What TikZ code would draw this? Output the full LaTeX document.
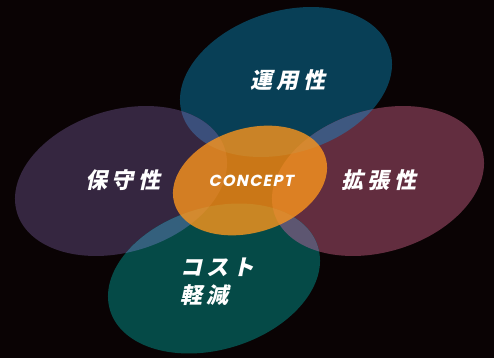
\documentclass[tikz,border=0pt]{standalone}
\usepackage{fontspec}
\newfontfamily\jp[FakeSlant=0.22,LetterSpace=20]{Noto Sans CJK JP}
\newfontfamily\cfont[FakeSlant=0.2,LetterSpace=8]{Poppins}
\definecolor{bgc}{HTML}{0A0304}
\definecolor{cT}{HTML}{083F56}
\definecolor{cL}{HTML}{352640}
\definecolor{cR}{HTML}{622D3F}
\definecolor{cB}{HTML}{054A47}
\definecolor{oTL}{HTML}{3B4F7B}
\definecolor{oTR}{HTML}{3E5880}
\definecolor{oBR}{HTML}{5D5671}
\definecolor{oBL}{HTML}{34607D}
\definecolor{cO}{HTML}{FB951C}
\tikzset{
  er/.style={x radius=108.7pt, y radius=71pt},
  eo/.style={x radius=79pt, y radius=52pt},
  rT/.style={rotate around={17:(286,82)}},
  rL/.style={rotate around={17:(121,181)}},
  rR/.style={rotate around={17:(378,181)}},
  rB/.style={rotate around={17:(214,278.5)}},
  rO/.style={rotate around={17:(250,180.5)}},
  jlab/.style={text=white, font=\jp\bfseries\fontsize{22}{26}\selectfont, inner sep=0pt},
  clab/.style={text=white, font=\cfont\bfseries\fontsize{16}{19}\selectfont, inner sep=0pt}
}
\begin{document}
\begin{tikzpicture}[x=1pt,y=-1pt]
\fill[bgc] (0,0) rectangle (494,358);
\useasboundingbox (0,0) rectangle (494,358);
% main ellipses
\fill[cT, rT] (286,82) ellipse [er];
\fill[cL, rL] (121,181) ellipse [er];
\fill[cR, rR] (378,181) ellipse [er];
\fill[cB, rB] (214,278.5) ellipse [er];
% overlaps
\begin{scope}
  \clip[rT] (286,82) ellipse [er];
  \fill[oTL, rL] (121,181) ellipse [er];
  \fill[oTR, rR] (378,181) ellipse [er];
\end{scope}
\begin{scope}
  \clip[rB] (214,278.5) ellipse [er];
  \fill[oBL, rL] (121,181) ellipse [er];
  \fill[oBR, rR] (378,181) ellipse [er];
\end{scope}
% centre
\fill[cO, fill opacity=0.8, rO] (250,180.5) ellipse [eo];
% labels
\node[jlab] (top) at (288,80) {運用性};
\node[jlab] (left) at (123,180) {保守性};
\node[jlab] (right) at (379,180) {拡張性};
\node[clab] (concept) at (251,181) {CONCEPT};
\node[jlab, anchor=west] (cost) at (180,267) {コスト};
\node[jlab, anchor=west] (red) at (180,295) {軽減};
\end{tikzpicture}
\end{document}
